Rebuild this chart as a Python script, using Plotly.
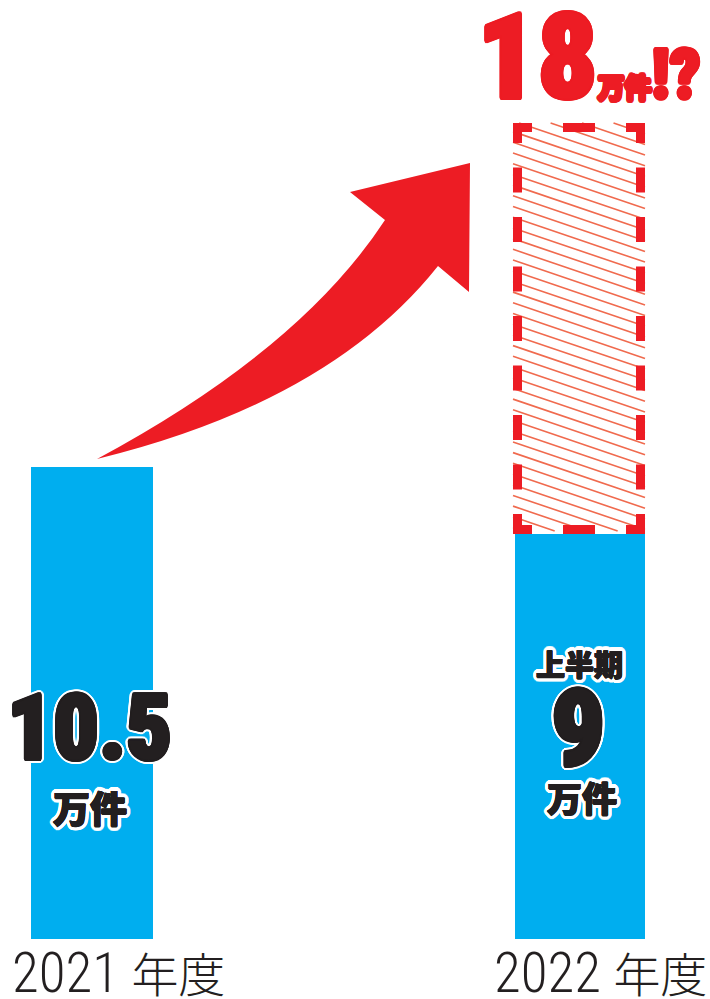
import math
import plotly.graph_objects as go

# ---------------- data ----------------
categories = ["2021", "2022"]
category_suffix = "年度"
values = [10.5, 9]            # 2021 full year, 2022 first half (万件)
forecast_2022 = 18            # projected 2022 full-year (万件)
unit = "万件"
half_label = "上半期"

# ---------------- styling / geometry ----------------
W, H = 710, 999
BLUE = "#00AEEF"
RED = "#ED1C24"
HATCH = "#F06A4E"
INK = "#231F20"
X_PX0, X_PX_PER = 92, 488       # pixel of index 0, px per index unit
Y_PX0, Y_PX_PER = 939, 45.0     # pixel of value 0, px per value unit
bar_widths = [122 / X_PX_PER, 130 / X_PX_PER]

x_range = [-X_PX0 / X_PX_PER, (W - X_PX0) / X_PX_PER]
y_range = [-(H - Y_PX0) / Y_PX_PER, Y_PX0 / Y_PX_PER]

def px_x(xd):
    return X_PX0 + xd * X_PX_PER

def px_y(yd):
    return Y_PX0 - yd * Y_PX_PER

def d_x(px):
    return (px - X_PX0) / X_PX_PER

def d_y(py):
    return (Y_PX0 - py) / Y_PX_PER

def ring(color, r, n=16):
    out = []
    for i in range(n):
        a = 2 * math.pi * i / n
        out.append(f"{r*math.cos(a):.1f}px {r*math.sin(a):.1f}px 0 {color}")
    return out

def heavy_outline(fill, thick=True):
    inner = ring(fill, 1.0, 8) + ring(fill, 1.8, 12) if thick else ring(fill, 0.5, 8)
    return ", ".join(inner + ring("#ffffff", 4.0, 20) + ring("#ffffff", 2.8, 12))

xs = list(range(len(categories)))
fig = go.Figure()
fig.add_trace(go.Bar(x=xs, y=values, width=bar_widths, marker=dict(color=BLUE, line=dict(width=0)),
                     hoverinfo="skip"))
# projected remainder of 2022
fig.add_trace(go.Bar(x=[xs[1]], y=[forecast_2022 - values[1]], base=[values[1]], width=[bar_widths[1]],
                     marker=dict(color="rgba(255,255,255,0)", line=dict(width=0)), hoverinfo="skip"))

shapes = []
# hatch lines inside projected bar
L = px_x(xs[1] - bar_widths[1] / 2) - 2
R = px_x(xs[1] + bar_widths[1] / 2)
T = px_y(forecast_2022) - 6
B = px_y(values[1]) - 3
s = 0.34
dv = 10.7
c = T - s * (R - L)
while c < B:
    xa = max(L, L + (T - c) / s)
    xb = min(R, L + (B - c) / s)
    if xb > xa:
        ya = c + s * (xa - L)
        yb = c + s * (xb - L)
        shapes.append(dict(type="line", xref="x", yref="y", x0=d_x(xa), y0=d_y(ya), x1=d_x(xb), y1=d_y(yb),
                           line=dict(color=HATCH, width=1.6), layer="above"))
    c += dv

# dashed outline, one line per side so that every corner is an L
SW = 9
def dash_pattern(length, end, mid, gap_target):
    inner = length - 2 * end
    n = max(1, round((inner - gap_target) / (mid + gap_target)))
    g = (inner - n * mid) / (n + 1)
    parts = [end]
    for _ in range(n):
        parts += [g, mid]
    parts += [g, end]
    return ",".join(f"{p:.1f}px" for p in parts)

ol, orr, ot, ob = L, R, T, B + 3
h_len = orr - ol
v_len = ob - ot
for (xa, ya, xb, yb, pat) in [
    (ol, ot + SW / 2, orr, ot + SW / 2, dash_pattern(h_len, 19, 32, 31)),
    (ol, ob - SW / 2, orr, ob - SW / 2, dash_pattern(h_len, 19, 32, 31)),
    (ol + SW / 2, ot, ol + SW / 2, ob, dash_pattern(v_len, 20, 25, 25)),
    (orr - SW / 2, ot, orr - SW / 2, ob, dash_pattern(v_len, 20, 25, 25)),
]:
    shapes.append(dict(type="line", xref="x", yref="y", x0=d_x(xa), y0=d_y(ya), x1=d_x(xb), y1=d_y(yb),
                       line=dict(color=RED, width=SW, dash=pat), layer="above"))

# curved red arrow (decoration), pixel coords -> paper
def pp(x, y):
    return f"{x / W:.5f},{1 - y / H:.5f}"

arrow_path = ("M " + pp(97, 459) +
              " Q " + pp(300, 350) + " " + pp(385, 220) +
              " L " + pp(350, 192) +
              " L " + pp(470, 163) +
              " L " + pp(469, 292) +
              " L " + pp(438, 266) +
              " Q " + pp(330, 402) + " " + pp(97, 459) + " Z")
shapes.append(dict(type="path", xref="paper", yref="paper", path=arrow_path,
                   fillcolor=RED, line=dict(width=0), layer="above"))

HEAVY = "Roboto Condensed, Liberation Sans Narrow, Roboto, sans-serif"
CJK = "Noto Sans CJK JP, sans-serif"

ann = []
def txt(text, x, xshift, yshift, size, family, color=INK, weight=900, shadow="none"):
    ann.append(dict(x=x, y=0, xref="x", yref="y", xshift=xshift, yshift=yshift, text=text, showarrow=False,
                    xanchor="center", yanchor="middle",
                    font=dict(size=size, family=family, color=color, weight=weight, shadow=shadow)))

txt(f"{values[0]}", xs[0], -3, 211, 90, HEAVY, shadow=heavy_outline(INK))
txt(unit, xs[0], -2, 132, 37, CJK, shadow=heavy_outline(INK, thick=False))
txt(half_label, xs[1], -1, 276, 29, CJK, shadow=heavy_outline(INK, thick=False))
txt(f"{values[1]:g}", xs[1], -2, 210, 106, HEAVY, shadow=heavy_outline(INK))
txt(unit, xs[1], 2, 143, 35, CJK, shadow=heavy_outline(INK, thick=False))

red_thick = ", ".join(ring(RED, 1.0, 8) + ring(RED, 1.8, 12))
ann.append(dict(x=xs[1], y=forecast_2022, xref="x", yref="y", xshift=9, yshift=0,
                text=(f"{forecast_2022}<span style='font-size:27px;font-family:Noto Sans CJK JP;font-weight:900'>{unit}</span>"
                      "<span style='font-size:68px'>!?</span>"),
                showarrow=False, xanchor="center", yanchor="bottom",
                font=dict(size=118, family=HEAVY, color=RED, weight=900, shadow=red_thick)))

for i, cat in enumerate(categories):
    ann.append(dict(x=xs[i], y=0, xref="x", yref="y", xshift=[26, 20][i], yshift=-32,
                    text=f"{cat} <span style='font-size:47px;font-family:Noto Sans CJK JP;font-weight:300'>{category_suffix}</span>",
                    showarrow=False, xanchor="center", yanchor="middle",
                    font=dict(size=55, family="Roboto Condensed, Liberation Sans Narrow, Roboto, sans-serif",
                              color=INK, weight=300)))

fig.update_layout(
    width=W, height=H, margin=dict(l=0, r=0, t=0, b=0),
    paper_bgcolor="white", plot_bgcolor="white", showlegend=False,
    barmode="overlay", bargap=0,
    xaxis=dict(range=x_range, visible=False, fixedrange=True),
    yaxis=dict(range=y_range, visible=False, fixedrange=True),
    shapes=shapes, annotations=ann,
)
fig.write_html("out.html")
